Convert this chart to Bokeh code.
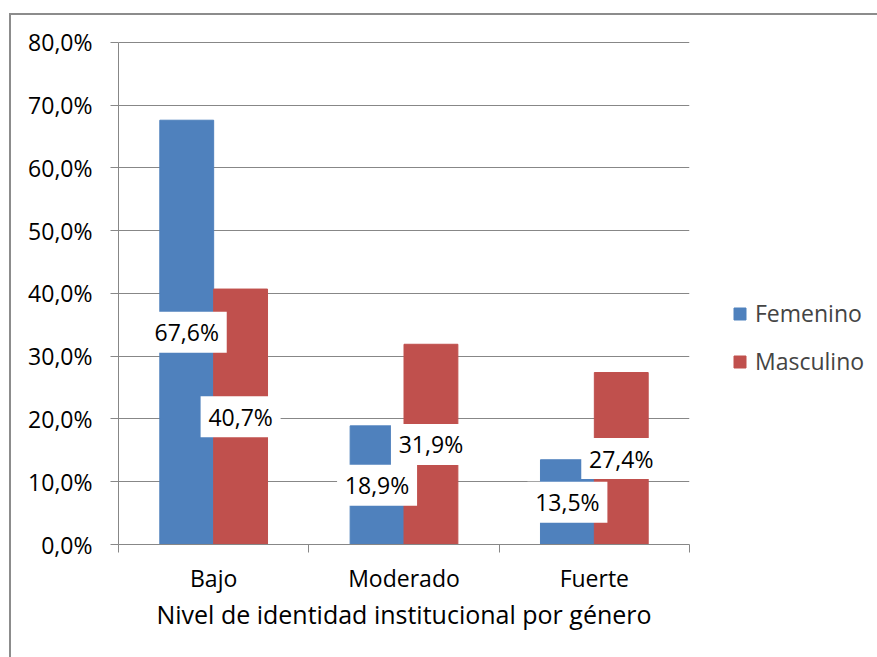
from bokeh.plotting import figure
from bokeh.models import (ColumnDataSource, FixedTicker, Legend, LegendItem, Range1d)
from bokeh.core.properties import value
from bokeh.embed import file_html
from bokeh.resources import INLINE

# Data
categories = ["Bajo", "Moderado", "Fuerte"]
femenino = [67.6, 18.9, 13.5]
masculino = [40.7, 31.9, 27.4]
series_names = ["Femenino", "Masculino"]
y_ticks = [0, 10, 20, 30, 40, 50, 60, 70, 80]
y_tick_labels = ["0,0%", "10,0%", "20,0%", "30,0%", "40,0%", "50,0%", "60,0%", "70,0%", "80,0%"]
x_title = "Nivel de identidad institucional por género"

BLUE = "#4F81BD"
RED = "#C0504D"
GRID = "#878787"
FONT = "Open Sans"
FS = "23px"
BAR_W = 0.283


def pct(v):
    return f"{v:.1f}%".replace(".", ",")


centers = [i + 0.5 for i in range(len(categories))]

src_f = ColumnDataSource(dict(
    x=[c - BAR_W / 2 for c in centers], top=femenino,
    mid=[v / 2 for v in femenino], txt=[pct(v) for v in femenino]))
src_m = ColumnDataSource(dict(
    x=[c + BAR_W / 2 for c in centers], top=masculino,
    mid=[v / 2 for v in masculino], txt=[pct(v) for v in masculino]))

# the chart sits inside a thin grey frame drawn on its left/top edges
p = figure(width=866, height=642, frame_width=571, frame_height=504,
           min_border_left=107, min_border_right=188, min_border_top=25, min_border_bottom=113,
           x_range=Range1d(0, len(categories)), y_range=Range1d(0, 80.3),
           output_backend="svg", toolbar_location=None)
p.margin = (13, 0, 0, 9)
p.styles = {"border-left": "2px solid #8c8c8c", "border-top": "2px solid #8c8c8c"}
p.outline_line_color = None
p.background_fill_color = "white"
p.border_fill_color = "white"

rf = p.vbar(x="x", top="top", width=BAR_W, bottom=0, source=src_f, color=BLUE)
rm = p.vbar(x="x", top="top", width=BAR_W, bottom=0, source=src_m, color=RED)

# value labels in white boxes at the middle of each bar
for src in (src_f, src_m):
    p.rect(x="x", y="mid", width=80, height=41, width_units="screen", height_units="screen",
           source=src, fill_color="white", line_color=None)
for src in (src_f, src_m):
    p.text(x="x", y="mid", text="txt", source=src, text_align="center", text_baseline="middle",
           text_font=value(FONT), text_font_size=FS, text_color="black")

# y axis
p.yaxis.ticker = FixedTicker(ticks=y_ticks)
p.yaxis.bounds = (0, 80)
p.yaxis.major_label_overrides = dict(zip(y_ticks, y_tick_labels))
p.yaxis.major_label_text_font = FONT
p.yaxis.major_label_text_font_size = FS
p.yaxis.major_label_text_color = "black"
p.yaxis.axis_line_color = GRID
p.yaxis.major_tick_line_color = GRID
p.yaxis.major_tick_out = 8
p.yaxis.major_tick_in = 0
p.yaxis.minor_tick_line_color = None
p.yaxis.major_label_standoff = 18

# x axis: labels at category centres, ticks at category boundaries
p.xaxis.ticker = FixedTicker(ticks=centers, minor_ticks=list(range(len(categories) + 1)))
p.xaxis.major_label_overrides = dict(zip(centers, categories))
p.xaxis.major_label_text_font = FONT
p.xaxis.major_label_text_font_size = FS
p.xaxis.major_label_text_color = "black"
p.xaxis.axis_line_color = GRID
p.xaxis.major_tick_line_color = None
p.xaxis.minor_tick_line_color = GRID
p.xaxis.minor_tick_out = 8
p.xaxis.minor_tick_in = 0
p.xaxis.major_label_standoff = 9
p.xaxis.axis_label = x_title
p.xaxis.axis_label_text_font = FONT
p.xaxis.axis_label_text_font_style = "normal"
p.xaxis.axis_label_text_font_size = "25px"
p.xaxis.axis_label_text_color = "black"
p.xaxis.axis_label_standoff = 0

p.xgrid.grid_line_color = None
p.ygrid.ticker = FixedTicker(ticks=y_ticks)
p.ygrid.grid_line_color = GRID
p.ygrid.grid_line_width = 1

# legend to the right of the plot area
legend = Legend(items=[LegendItem(label=series_names[0], renderers=[rf]),
                       LegendItem(label=series_names[1], renderers=[rm])],
                location=(43, 167), orientation="vertical",
                padding=0, margin=0, spacing=16,
                glyph_width=15, glyph_height=15, label_standoff=8,
                label_text_font=FONT, label_text_font_size=FS,
                border_line_color=None, background_fill_alpha=0)
p.add_layout(legend, "right")

open("out.html", "w").write(file_html(p, INLINE))
